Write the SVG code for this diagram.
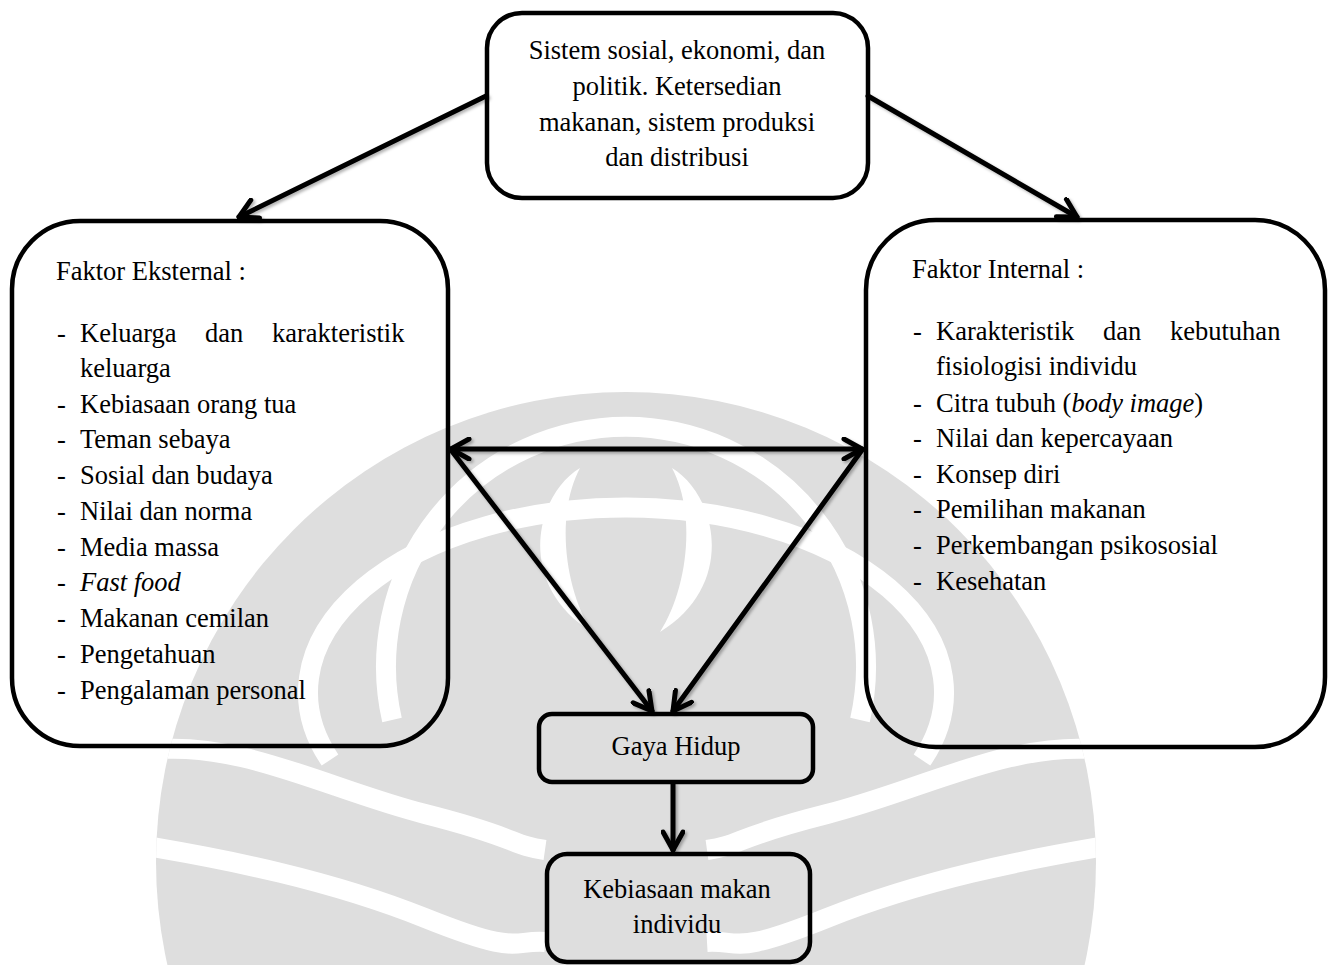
<svg xmlns="http://www.w3.org/2000/svg" width="1332" height="965" viewBox="0 0 1332 965">
<defs>
<style>
.t{font-family:"Liberation Serif","Times New Roman",serif;font-size:26.5px;fill:#000}
.c{text-anchor:middle}
.i{font-style:italic}
.box{fill:none;stroke:#000;stroke-width:4.5}
.ln{fill:none;stroke:#000;stroke-width:5;stroke-linecap:round}
.wm{fill:#dedede}
.wb{fill:none;stroke:#fff;stroke-width:20}
</style>
<marker id="ah" viewBox="0 0 24 24" refX="21" refY="12" markerWidth="24" markerHeight="24" markerUnits="userSpaceOnUse" orient="auto-start-reverse">
<path d="M3,2 L21,12 L3,22" fill="none" stroke="#000" stroke-width="5" stroke-linecap="round" stroke-linejoin="round"/>
</marker>
<filter id="sh" x="-10%" y="-10%" width="120%" height="120%">
<feDropShadow dx="2" dy="2" stdDeviation="1.5" flood-color="#000" flood-opacity="0.3"/>
</filter>
<clipPath id="wmclip"><circle cx="626" cy="862" r="470"/></clipPath>
</defs>
<rect width="1332" height="965" fill="#fff"/>
<g id="watermark">
<circle class="wm" cx="626" cy="862" r="470"/>
<g clip-path="url(#wmclip)">
<path class="wb" d="M330,760 A318,185 0 1 1 922,760"/>
<path class="wb" d="M392,720 A240,240 0 1 1 860,720"/>
<path d="M580,468 C535,495 515,585 592,632 C565,590 555,515 580,468 Z" fill="#fff"/>
<path d="M672,468 C717,495 737,585 660,632 C687,590 697,515 672,468 Z" fill="#fff"/>
<path class="wb" d="M150,750 C240,740 330,790 425,814 S510,845 545,850"/>
<path class="wb" d="M140,845 C230,860 330,880 425,918 S510,940 545,942"/>
<path class="wb" d="M1102,750 C1012,740 922,790 827,814 S742,845 707,850"/>
<path class="wb" d="M1112,845 C1022,860 922,880 827,918 S742,940 707,942"/>
</g>
</g>
<g id="connectors" filter="url(#sh)">
<line class="ln" x1="486" y1="96" x2="239" y2="217" marker-end="url(#ah)"/>
<line class="ln" x1="868" y1="96" x2="1077" y2="217" marker-end="url(#ah)"/>
<line class="ln" x1="451" y1="449" x2="862" y2="449" marker-start="url(#ah)" marker-end="url(#ah)"/>
<line class="ln" x1="451" y1="450" x2="652" y2="711" marker-end="url(#ah)"/>
<line class="ln" x1="862" y1="450" x2="673" y2="711" marker-end="url(#ah)"/>
<line class="ln" x1="673" y1="784" x2="673" y2="850" marker-end="url(#ah)"/>
</g>
<g id="node-top">
<rect class="box" x="487" y="13" width="381" height="185" rx="35"/>
<text class="t c" x="677" y="59">Sistem sosial, ekonomi, dan</text>
<text class="t c" x="677" y="95">politik. Ketersedian</text>
<text class="t c" x="677" y="130.5">makanan, sistem produksi</text>
<text class="t c" x="677" y="166">dan distribusi</text>
</g>
<g id="node-eksternal">
<rect class="box" x="12" y="221" width="436" height="525" rx="68"/>
<text class="t" x="56" y="280">Faktor Eksternal :</text>
<text class="t"><tspan x="57" y="342">-</tspan><tspan x="80" y="342">Keluarga</tspan><tspan x="205" y="342">dan</tspan><tspan x="272" y="342">karakteristik</tspan></text>
<text class="t" x="80" y="377">keluarga</text>
<text class="t"><tspan x="57" y="412.5">-</tspan><tspan x="80" y="412.5">Kebiasaan orang tua</tspan></text>
<text class="t"><tspan x="57" y="448">-</tspan><tspan x="80" y="448">Teman sebaya</tspan></text>
<text class="t"><tspan x="57" y="484">-</tspan><tspan x="80" y="484">Sosial dan budaya</tspan></text>
<text class="t"><tspan x="57" y="520">-</tspan><tspan x="80" y="520">Nilai dan norma</tspan></text>
<text class="t"><tspan x="57" y="555.5">-</tspan><tspan x="80" y="555.5">Media massa</tspan></text>
<text class="t"><tspan x="57" y="591">-</tspan><tspan x="80" y="591" class="i">Fast food</tspan></text>
<text class="t"><tspan x="57" y="627">-</tspan><tspan x="80" y="627">Makanan cemilan</tspan></text>
<text class="t"><tspan x="57" y="663">-</tspan><tspan x="80" y="663">Pengetahuan</tspan></text>
<text class="t"><tspan x="57" y="698.5">-</tspan><tspan x="80" y="698.5">Pengalaman personal</tspan></text>
</g>
<g id="node-internal">
<rect class="box" x="866" y="220" width="459" height="527" rx="70"/>
<text class="t" x="912" y="278">Faktor Internal :</text>
<text class="t"><tspan x="913" y="340">-</tspan><tspan x="936" y="340">Karakteristik</tspan><tspan x="1103" y="340">dan</tspan><tspan x="1170" y="340">kebutuhan</tspan></text>
<text class="t" x="936" y="375">fisiologisi individu</text>
<text class="t"><tspan x="913" y="411.5">-</tspan><tspan x="936" y="411.5">Citra tubuh (<tspan class="i">body image</tspan>)</tspan></text>
<text class="t"><tspan x="913" y="447">-</tspan><tspan x="936" y="447">Nilai dan kepercayaan</tspan></text>
<text class="t"><tspan x="913" y="482.5">-</tspan><tspan x="936" y="482.5">Konsep diri</tspan></text>
<text class="t"><tspan x="913" y="518">-</tspan><tspan x="936" y="518">Pemilihan makanan</tspan></text>
<text class="t"><tspan x="913" y="554">-</tspan><tspan x="936" y="554">Perkembangan psikososial</tspan></text>
<text class="t"><tspan x="913" y="589.5">-</tspan><tspan x="936" y="589.5">Kesehatan</tspan></text>
</g>
<g id="node-gaya">
<rect class="box" x="539" y="714" width="274" height="68" rx="13"/>
<text class="t c" x="676" y="755">Gaya Hidup</text>
</g>
<g id="node-kebiasaan">
<rect class="box" x="547" y="854" width="263" height="108" rx="20"/>
<text class="t c" x="677" y="898">Kebiasaan makan</text>
<text class="t c" x="677" y="933">individu</text>
</g>
</svg>
